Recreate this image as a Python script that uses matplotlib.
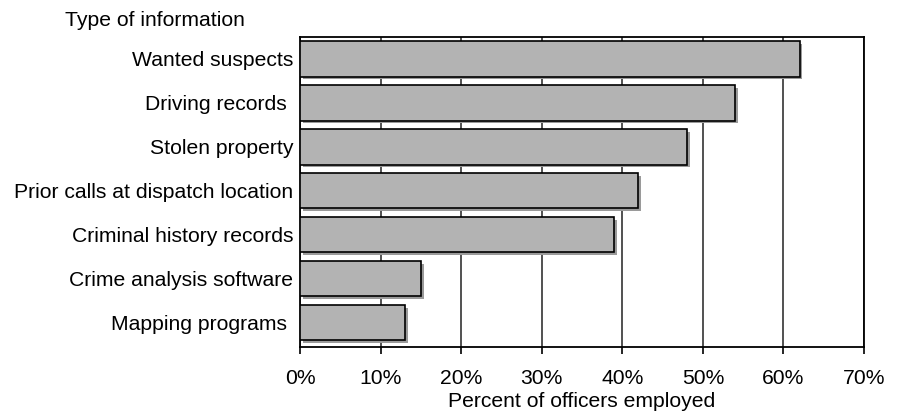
import matplotlib
matplotlib.use("Agg")
import matplotlib.pyplot as plt
import matplotlib.patheffects as pe
from matplotlib.ticker import FuncFormatter

categories = ["Wanted suspects", "Driving records ", "Stolen property",
              "Prior calls at dispatch location", "Criminal history records",
              "Crime analysis software", "Mapping programs "]
values = [62, 54, 48, 42, 39, 15, 13]
xticks = [0, 10, 20, 30, 40, 50, 60, 70]

plt.rcParams['font.family'] = ['Liberation Sans', 'DejaVu Sans']

fig = plt.figure(figsize=(8.98, 4.11), dpi=100)
ax = fig.add_axes([300/898, 1-347/411, (864-300)/898, (347-37)/411])

ypos = list(range(len(categories)))
bars = ax.barh(ypos, values, height=0.8, color='#b3b3b3', edgecolor='black',
               linewidth=1.2, zorder=3)
for b in bars:
    b.set_path_effects([pe.SimplePatchShadow(offset=(2, -2), shadow_rgbFace='#9a9a9a', alpha=1.0),
                        pe.Normal()])

ax.set_xlim(0, 70)
ax.set_ylim(6.55, -0.5)
ax.set_xticks(xticks)
ax.xaxis.set_major_formatter(FuncFormatter(lambda v, p: f"{int(v)}%"))
ax.set_yticks(ypos)
ax.set_yticklabels(categories, fontsize=15.2)
ax.tick_params(axis='x', labelsize=15.2, length=5, width=1.2, direction='out', pad=11)
ax.tick_params(axis='y', length=0, pad=5)
ax.grid(axis='x', color='#333333', linewidth=1.2, zorder=0)
ax.set_axisbelow(True)
for s in ax.spines.values():
    s.set_linewidth(1.3)
    s.set_color('black')

ax.set_xlabel("Percent of officers employed", fontsize=15.2, labelpad=3)
fig.text(65/898, 1-20/411, "Type of information", fontsize=15.2, ha='left', va='center')

fig.savefig("out.png", dpi=100)
